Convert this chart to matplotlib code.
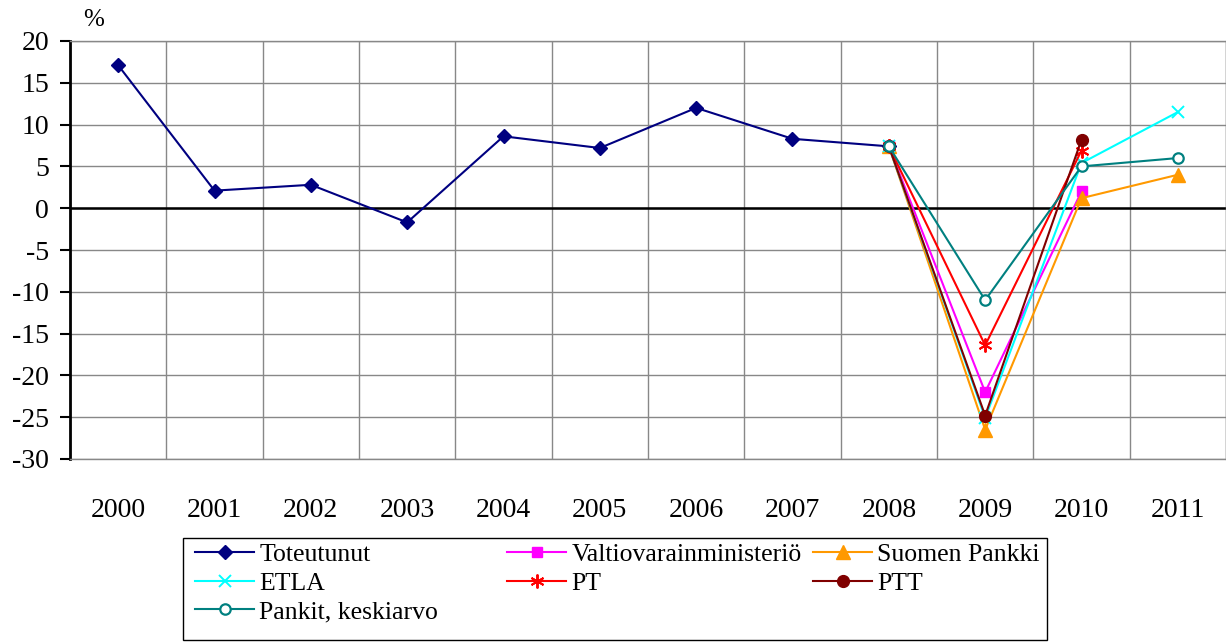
import numpy as np
import matplotlib
matplotlib.use("Agg")
import matplotlib.pyplot as plt
from matplotlib.patches import Rectangle

plt.rcParams['font.family'] = ['Liberation Serif', 'DejaVu Serif']

years = ['2000', '2001', '2002', '2003', '2004', '2005',
         '2006', '2007', '2008', '2009', '2010', '2011']
nan = np.nan

toteutunut = [17.1, 2.1, 2.8, -1.7, 8.6, 7.2, 12.0, 8.3, 7.4, nan, nan, nan]
valtiovarain = [nan] * 8 + [7.4, -22.0, 2.0, nan]
suomen_pankki = [nan] * 8 + [7.4, -26.5, 1.2, 4.0]
etla = [nan] * 8 + [7.4, -25.1, 5.4, 11.5]
pt = [nan] * 8 + [7.4, -16.4, 6.9, nan]
ptt = [nan] * 8 + [7.4, -24.8, 8.2, nan]
pankit = [nan] * 8 + [7.4, -11.0, 5.0, 6.0]

series = [
    ("Toteutunut", toteutunut, '#000080', 'D', dict(ms=7.5)),
    ("Valtiovarainministeriö", valtiovarain, '#FF00FF', 's', dict(ms=7.5)),
    ("Suomen Pankki", suomen_pankki, '#FF9900', '^', dict(ms=9.5)),
    ("ETLA", etla, '#00FFFF', 'x', dict(ms=9, mew=1.4)),
    ("PT", pt, '#FF0000', (6, 2, 0), dict(ms=10, mew=1.4)),
    ("PTT", ptt, '#800000', 'o', dict(ms=8.5)),
    ("Pankit, keskiarvo", pankit, '#008080', 'o', dict(ms=7.5, mfc='white', mew=1.6)),
]

W, H = 1226, 643
fig = plt.figure(figsize=(W / 100, H / 100), dpi=100)
ax = fig.add_axes([70 / W, 1 - 459 / H, (1226 - 70) / W, (459 - 41) / H])

x = np.arange(len(years))
lines = []
for name, vals, col, mk, kw in series:
    ln, = ax.plot(x, vals, color=col, marker=mk, lw=1.5, label=name, zorder=3, **kw)
    lines.append(ln)

ax.set_xlim(-0.5, len(years) - 0.5)
ax.set_ylim(-30, 20)
ax.set_yticks(np.arange(-30, 21, 5))
ax.set_yticklabels([str(v) for v in range(-30, 21, 5)], fontsize=20)
ax.set_xticks(x)
ax.set_xticklabels(years, fontsize=20)
ax.tick_params(axis='x', length=0, pad=28)
ax.tick_params(axis='y', direction='out', length=7, width=1.5, pad=8)

ax.set_xticks(np.arange(-0.5, len(years), 1), minor=True)
ax.tick_params(axis='x', which='minor', length=0)
ax.grid(True, axis='x', which='minor', color='#888888', lw=1)
ax.grid(True, axis='y', which='major', color='#888888', lw=1)
ax.set_axisbelow(True)
ax.axhline(0, color='black', lw=1.8, zorder=2)

for s in ['top', 'bottom', 'right']:
    ax.spines[s].set_color('#888888')
    ax.spines[s].set_linewidth(1)
ax.spines['left'].set_color('black')
ax.spines['left'].set_linewidth(2)

fig.text(83 / W, 1 - 20 / H, '%', fontsize=18, va='center', ha='left')

# legend: three columns placed at fixed positions, row-major order
columns = [([0, 3, 6], 195), ([1, 4], 507), ([2, 5], 813)]
for idx, xc in columns:
    leg = fig.legend([lines[i] for i in idx], [series[i][0] for i in idx],
                     loc='upper left', bbox_to_anchor=(xc / W, 1 - 543 / H),
                     fontsize=18.5, frameon=False, borderpad=0, borderaxespad=0,
                     handlelength=2.3, handletextpad=0.2, labelspacing=0.22)
fig.patches.append(Rectangle((183 / W, 1 - 640 / H), (1047 - 183) / W, (640 - 538) / H,
                             transform=fig.transFigure, fill=False,
                             edgecolor='black', lw=1))

fig.savefig('out.png', dpi=100)
